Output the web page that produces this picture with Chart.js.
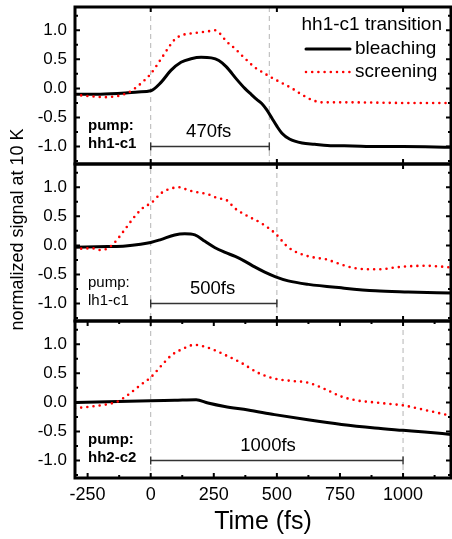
<!DOCTYPE html>
<html>
<head>
<meta charset="utf-8">
<script src="https://cdn.jsdelivr.net/npm/chart.js@4/dist/chart.umd.min.js"></script>
<style>
  html, body { margin: 0; padding: 0; background: #fff; }
</style>
</head>
<body>
<canvas id="signalChart" width="452" height="539"></canvas>
<script>
// axis ranges and tick values
const xMin = -300, xMax = 1190;
const yMin = -1.3, yMax = 1.4;
const xTicks = [-250, 0, 250, 500, 750, 1000];
const xMinorTicks = [-125, 125, 375, 625, 875, 1125];
const xTicksInner = [0, 500, 1000];
const yTicks = [-1.0, -0.5, 0.0, 0.5, 1.0];
const yMinorTicks = [-1.25, -0.75, -0.25, 0.25, 0.75, 1.25];

// pump hh1-c1
const hh1BleachT = [-300, -200, -100, -50, 0, 40, 80, 120, 160, 200, 240, 270, 300, 340, 373, 400, 420, 440, 460, 480, 500, 520, 550, 600, 650, 700, 800, 900, 1000, 1190];
const hh1BleachV = [-0.10, -0.10, -0.08, -0.06, -0.04, 0.10, 0.31, 0.45, 0.51, 0.535, 0.525, 0.48, 0.37, 0.16, 0.00, -0.11, -0.19, -0.26, -0.37, -0.51, -0.65, -0.77, -0.87, -0.94, -0.96, -0.98, -0.99, -1.00, -1.00, -1.01];
const hh1ScreenT = [-300, -250, -180, -120, -80, -40, 0, 40, 80, 95, 120, 170, 225, 255, 275, 300, 335, 370, 410, 450, 490, 530, 560, 600, 640, 680, 800, 1000, 1190];
const hh1ScreenV = [-0.11, -0.13, -0.15, -0.12, -0.05, 0.08, 0.25, 0.50, 0.76, 0.84, 0.91, 0.95, 0.98, 1.00, 0.94, 0.81, 0.68, 0.53, 0.37, 0.26, 0.16, 0.07, 0.00, -0.11, -0.20, -0.24, -0.24, -0.25, -0.25];

// pump lh1-c1
const lh1BleachT = [-300, -170, -100, -40, 0, 40, 95, 135, 175, 215, 255, 295, 335, 372, 412, 452, 495, 545, 625, 755, 890, 1020, 1190];
const lh1BleachV = [-0.03, -0.02, -0.01, 0.02, 0.05, 0.10, 0.18, 0.20, 0.18, 0.07, -0.04, -0.12, -0.19, -0.27, -0.37, -0.46, -0.54, -0.61, -0.67, -0.73, -0.78, -0.80, -0.82];
const lh1ScreenT = [-300, -230, -200, -170, -143, -103, -63, -24, 0, 42, 82, 115, 148, 188, 227, 267, 300, 333, 386, 439, 495, 544, 597, 650, 695, 756, 808, 861, 914, 967, 1020, 1086, 1139, 1190];
const lh1ScreenV = [-0.06, -0.05, -0.08, -0.05, 0.05, 0.27, 0.50, 0.67, 0.72, 0.90, 0.98, 1.00, 0.95, 0.91, 0.88, 0.81, 0.78, 0.64, 0.50, 0.38, 0.20, -0.03, -0.15, -0.21, -0.24, -0.33, -0.39, -0.41, -0.41, -0.38, -0.36, -0.35, -0.36, -0.38];

// pump hh2-c2
const hh2BleachT = [-300, -170, 0, 95, 180, 227, 293, 386, 491, 623, 756, 888, 1000, 1086, 1190];
const hh2BleachV = [0.00, 0.01, 0.03, 0.037, 0.045, -0.01, -0.07, -0.13, -0.21, -0.30, -0.38, -0.44, -0.48, -0.51, -0.55];
const hh2ScreenT = [-300, -235, -169, -129, -90, -37, 0, 42, 82, 122, 174, 227, 293, 359, 425, 491, 557, 623, 690, 756, 822, 888, 954, 1000, 1086, 1190];
const hh2ScreenV = [-0.10, -0.07, -0.03, 0.02, 0.13, 0.31, 0.43, 0.63, 0.81, 0.91, 0.99, 0.94, 0.82, 0.68, 0.51, 0.41, 0.37, 0.34, 0.23, 0.10, 0.03, 0.00, -0.03, -0.05, -0.13, -0.23];

const FONT = '"Liberation Sans", Arial, sans-serif';
Chart.defaults.font.family = FONT;
Chart.defaults.color = '#000';

// one entry per stacked panel, top to bottom
const panels = [
  { axis: 'yA', pump: ['pump:', 'hh1-c1'], bold: true, span: 470, spanLabel: '470fs', labelAt: 230 },
  { axis: 'yB', pump: ['pump:', 'lh1-c1'], bold: false, span: 500, spanLabel: '500fs', labelAt: 245 },
  { axis: 'yC', pump: ['pump:', 'hh2-c2'], bold: true, span: 1000, spanLabel: '1000fs', labelAt: 465 }
];

function series(label, times, values, axis) {
  const dotted = label === 'screening';
  return {
    label,
    yAxisID: axis,
    data: times.map((t, i) => ({ x: t, y: values[i] })),
    borderColor: dotted ? '#ff0000' : '#000000',
    borderWidth: dotted ? 2.6 : 3,
    borderDash: dotted ? [0, 6.2] : [],
    borderCapStyle: 'round',
    pointRadius: 0,
    cubicInterpolationMode: 'monotone',
    fill: false
  };
}

function panelAxis() {
  return {
    type: 'linear',
    position: 'left',
    stack: 'panels',
    stackWeight: 1,
    min: yMin,
    max: yMax,
    border: { display: false },
    grid: { display: false, drawTicks: false },
    ticks: { padding: 8, autoSkip: false, font: { size: 17 }, callback: v => v.toFixed(1) },
    afterBuildTicks: s => { s.ticks = yTicks.map(v => ({ value: v })); },
    afterFit: s => {
      s.width = 75;
      s.paddingTop = 0;
      s.paddingBottom = 0;
    }
  };
}

const panelDecor = {
  id: 'panelDecor',
  beforeDatasetsDraw(chart) {
    const { ctx, chartArea } = chart;
    const x = chart.scales.x;
    ctx.save();
    ctx.strokeStyle = '#b4b4b4';
    ctx.lineWidth = 1;
    ctx.setLineDash([5, 4]);
    ctx.beginPath();
    const x0 = x.getPixelForValue(0);
    ctx.moveTo(x0, chartArea.top);
    ctx.lineTo(x0, chartArea.bottom);
    panels.forEach(p => {
      const s = chart.scales[p.axis];
      const px = x.getPixelForValue(p.span);
      ctx.moveTo(px, s.top);
      ctx.lineTo(px, s.bottom);
    });
    ctx.stroke();
    ctx.restore();
  },
  afterDatasetsDraw(chart) {
    const { ctx, chartArea } = chart;
    const x = chart.scales.x;
    const left = chartArea.left, right = chartArea.right;
    ctx.save();

    panels.forEach((p, i) => {
      const s = chart.scales[p.axis];
      const top = s.top, bottom = s.bottom;

      // inward tick marks
      ctx.strokeStyle = '#000';
      ctx.lineWidth = 2;
      ctx.beginPath();
      const xMajor = i === 2 ? xTicks : xTicksInner;
      const xMinor = i === 2 ? xMinorTicks : [];
      xMajor.forEach(v => {
        const px = x.getPixelForValue(v);
        ctx.moveTo(px, top); ctx.lineTo(px, top + 5);
        ctx.moveTo(px, bottom); ctx.lineTo(px, bottom - 5);
      });
      xMinor.forEach(v => {
        const px = x.getPixelForValue(v);
        ctx.moveTo(px, top); ctx.lineTo(px, top + 3);
        ctx.moveTo(px, bottom); ctx.lineTo(px, bottom - 3);
      });
      yTicks.forEach(v => {
        const py = s.getPixelForValue(v);
        ctx.moveTo(left, py); ctx.lineTo(left + 5, py);
        ctx.moveTo(right, py); ctx.lineTo(right - 5, py);
      });
      yMinorTicks.forEach(v => {
        const py = s.getPixelForValue(v);
        ctx.moveTo(left, py); ctx.lineTo(left + 3, py);
        ctx.moveTo(right, py); ctx.lineTo(right - 3, py);
      });
      ctx.stroke();

      // panel frame
      ctx.lineWidth = 3;
      ctx.strokeRect(left, top, right - left, bottom - top);

      // time span bracket
      const by = s.getPixelForValue(-1.0);
      const bx0 = x.getPixelForValue(0), bx1 = x.getPixelForValue(p.span);
      ctx.strokeStyle = '#333';
      ctx.lineWidth = 1.4;
      ctx.beginPath();
      ctx.moveTo(bx0, by); ctx.lineTo(bx1, by);
      ctx.moveTo(bx0, by - 4); ctx.lineTo(bx0, by + 4);
      ctx.moveTo(bx1, by - 4); ctx.lineTo(bx1, by + 4);
      ctx.stroke();

      ctx.fillStyle = '#000';
      ctx.font = '18.5px ' + FONT;
      ctx.textAlign = 'center';
      ctx.textBaseline = 'middle';
      ctx.fillText(p.spanLabel, x.getPixelForValue(p.labelAt), s.getPixelForValue(-0.75));

      // pump label
      ctx.font = (p.bold ? 'bold ' : '') + '15px ' + FONT;
      ctx.textAlign = 'left';
      ctx.fillText(p.pump[0], left + 13, s.getPixelForValue(-0.64));
      ctx.fillText(p.pump[1], left + 13, s.getPixelForValue(-0.96));
    });

    // legend in the top panel
    const top = chart.scales.yA.top;
    const sets = chart.data.datasets;
    const solid = sets.find(d => d.label === 'bleaching');
    const dotted = sets.find(d => d.label === 'screening');
    ctx.font = '19px ' + FONT;
    ctx.textBaseline = 'middle';
    ctx.textAlign = 'right';
    ctx.fillText('hh1-c1 transition', right - 9, top + 18);
    ctx.textAlign = 'left';
    [[solid, 42], [dotted, 65]].forEach(([d, dy]) => {
      ctx.strokeStyle = d.borderColor;
      ctx.lineWidth = d.borderWidth;
      ctx.lineCap = 'round';
      ctx.setLineDash(d.borderDash);
      ctx.beginPath();
      ctx.moveTo(right - 145, top + dy);
      ctx.lineTo(right - 101, top + dy);
      ctx.stroke();
      ctx.setLineDash([]);
      ctx.fillText(d.label, right - 96, top + dy);
    });

    // shared y axis title
    ctx.font = '18px ' + FONT;
    ctx.textAlign = 'center';
    ctx.translate(18, (chartArea.top + chartArea.bottom) / 2 - 13);
    ctx.rotate(-Math.PI / 2);
    ctx.fillText('normalized signal at 10 K', 0, 0);
    ctx.restore();
  }
};

new Chart(document.getElementById('signalChart'), {
  type: 'line',
  data: {
    datasets: [
      series('screening', hh1ScreenT, hh1ScreenV, 'yA'),
      series('bleaching', hh1BleachT, hh1BleachV, 'yA'),
      series('screening', lh1ScreenT, lh1ScreenV, 'yB'),
      series('bleaching', lh1BleachT, lh1BleachV, 'yB'),
      series('screening', hh2ScreenT, hh2ScreenV, 'yC'),
      series('bleaching', hh2BleachT, hh2BleachV, 'yC')
    ]
  },
  options: {
    responsive: false,
    animation: false,
    layout: { padding: { top: 7, right: 1, left: 0, bottom: 0 } },
    plugins: { legend: { display: false }, tooltip: { enabled: false } },
    scales: {
      x: {
        type: 'linear',
        min: xMin,
        max: xMax,
        border: { display: false },
        grid: { display: false, drawTicks: false },
        ticks: { padding: 6, font: { size: 18 }, callback: v => String(v) },
        afterBuildTicks: s => { s.ticks = xTicks.map(v => ({ value: v })); },
        afterFit: s => { s.height = 61; },
        title: { display: true, text: 'Time (fs)', font: { size: 25 }, padding: { top: 0, bottom: 2 } }
      },
      // stacked left axes are laid out last-declared on top
      yC: panelAxis(),
      yB: panelAxis(),
      yA: panelAxis()
    }
  },
  plugins: [panelDecor]
});
</script>
</body>
</html>
